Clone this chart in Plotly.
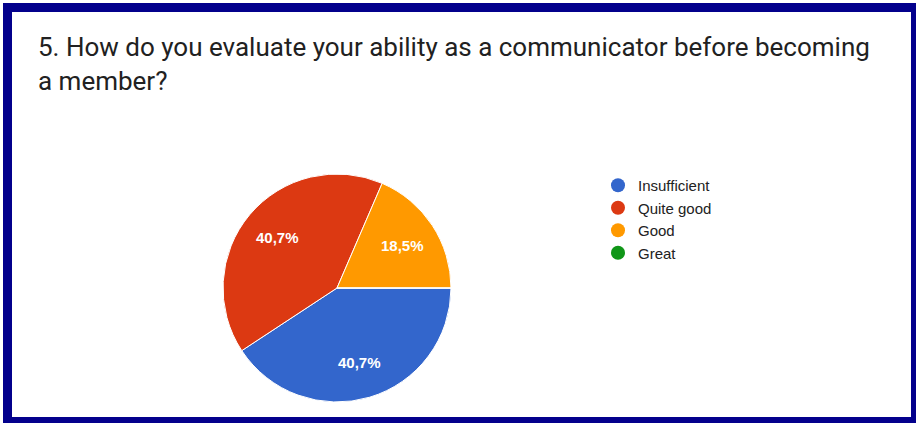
import math
import plotly.graph_objects as go

# Survey answers (number of respondents per option)
categories = ["Insufficient", "Quite good", "Good", "Great"]
counts = [11, 11, 5, 0]
colors = ["#3366CC", "#DC3912", "#FF9900", "#109618"]

title_text = "5. How do you evaluate your ability as a communicator before becoming<br>a member?"

W, H = 916, 423


def px_x(x):
    return x / W


def px_y(y):
    return 1 - y / H


# Pie geometry in pixels
CX, CY, R = 337, 288, 114
START = 90  # first slice starts at 3 o'clock, going clockwise

fig = go.Figure()

fig.add_trace(go.Pie(
    labels=categories,
    values=counts,
    marker=dict(colors=colors, line=dict(color="white", width=1)),
    sort=False,
    direction="clockwise",
    rotation=START,
    textinfo="none",
    hoverinfo="label+percent",
    showlegend=False,
    domain=dict(x=[px_x(CX - R), px_x(CX + R)], y=[px_y(CY + R), px_y(CY - R)]),
))

# Percentage labels placed along each slice's bisector
total = sum(counts)
annotations = []
acc = 0.0
for v in counts:
    if v > 0:
        mid = START + (acc + v / 2) / total * 360
        th = math.radians(mid)
        lx = CX + 0.685 * R * math.sin(th)
        ly = CY - 0.685 * R * math.cos(th)
        pct = f"{100 * v / total:.1f}".replace(".", ",") + "%"
        annotations.append(dict(
            text=f"<b>{pct}</b>", xref="paper", yref="paper",
            x=px_x(lx), y=px_y(ly), xanchor="center", yanchor="middle",
            showarrow=False,
            font=dict(family="Arial", size=15, color="white"),
        ))
    acc += v

annotations.append(dict(
    text=title_text, xref="paper", yref="paper",
    x=px_x(36), y=px_y(30), xanchor="left", yanchor="top",
    align="left", showarrow=False,
    font=dict(family="Roboto", size=26, color="#212121"),
))

# Legend entries with round swatches
for name, col in zip(categories, colors):
    fig.add_trace(go.Scatter(
        x=[None], y=[None], mode="markers", name=name,
        marker=dict(color=col, size=14, symbol="circle"),
    ))

# Dark blue frame around the card
frame = "#03008C"
sides = [
    (3, 3, 916, 12),
    (3, 3, 12, 423),
    (911, 3, 916, 423),
    (3, 417, 916, 423),
]
shapes = [
    dict(type="rect", xref="paper", yref="paper",
         x0=px_x(a), x1=px_x(c), y0=px_y(d), y1=px_y(b),
         fillcolor=frame, line=dict(width=0), layer="above")
    for a, b, c, d in sides
]

fig.update_layout(
    width=W, height=H,
    margin=dict(l=0, r=0, t=0, b=0),
    paper_bgcolor="white",
    plot_bgcolor="white",
    separators=",.",
    xaxis=dict(visible=False),
    yaxis=dict(visible=False),
    shapes=shapes,
    legend=dict(
        x=px_x(598), y=px_y(169), xanchor="left", yanchor="top",
        font=dict(family="Arial", size=15, color="#222222"),
        bgcolor="rgba(0,0,0,0)", tracegroupgap=0,
    ),
    annotations=annotations,
)

fig.write_html("out.html")
